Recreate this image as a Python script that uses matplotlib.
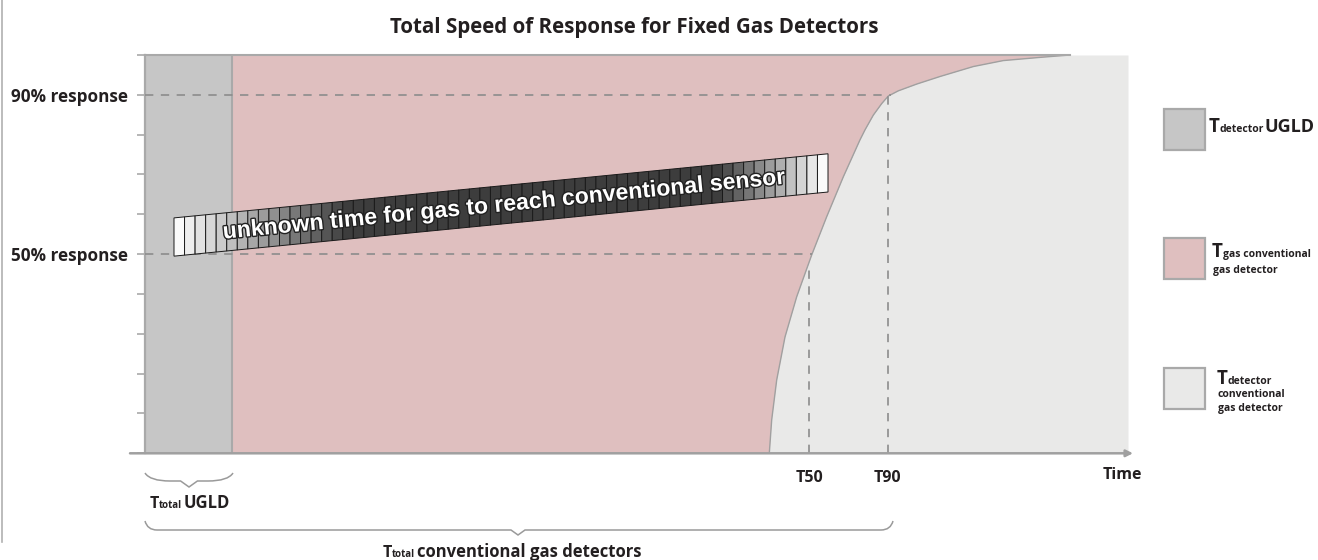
import numpy as np
import matplotlib
matplotlib.use("Agg")
import matplotlib.pyplot as plt
from matplotlib.patches import Rectangle, Polygon, PathPatch
from matplotlib.path import Path
import matplotlib.patheffects as pe

plt.rcParams['font.family'] = ['Open Sans', 'DejaVu Sans']

# ---------------- data ----------------
title = "Total Speed of Response for Fixed Gas Detectors"
ugld_end = 87            # end of UGLD detector time (time units)
time_max = 983           # right end of the chart area
# conventional detector response curve (time, % response)
curve_time = [624.3, 626.7, 631.7, 640, 651.7, 666.7, 681.7, 698.3, 715, 720, 728.3, 736.7, 743.3,
              753.3, 771.7, 795, 828.3, 858.3, 895, 925]
curve_resp = [0, 8.4, 18.4, 29.2, 39.3, 49.8, 59.4, 69.4, 78.7, 81.2, 84.9, 87.8, 89.7,
              91.0, 92.7, 94.6, 97.1, 98.6, 99.4, 100]
t50 = 664.3
t90 = 742.5
ytick_vals = list(range(0, 101, 10))
ytick_labels = ["50% response" if v == 50 else "90% response" if v == 90 else "" for v in ytick_vals]
bar_label = "unknown time for gas to reach conventional sensor"
legend_labels = [("detector", "UGLD", ""), ("gas conventional", "gas detector", ""),
                 ("detector", "conventional", "gas detector")]

# ---------------- style ----------------
c_grey = "#c6c6c6"
c_pink = "#dfbfbf"
c_light = "#e9e9e8"
c_edge = "#a9a9a9"
c_dash = "#8c8c8c"
c_text = "#231f20"

W, H = 1318, 560
fig = plt.figure(figsize=(W / 100, H / 100), dpi=100)
fig.patch.set_facecolor("white")

ax_l, ax_r, ax_t, ax_b = 145, 1135, 55, 453.3
ax = fig.add_axes([ax_l / W, (H - ax_b) / H, (ax_r - ax_l) / W, (ax_b - ax_t) / H])
ax.set_xlim(0, ax_r - ax_l)
ax.set_ylim(0, 100)
ax.set_facecolor("none")

ct = np.array(curve_time, float)
cr = np.array(curve_resp, float)

# regions
ax.fill_between([0, ugld_end], 0, 100, color=c_grey, lw=0, zorder=1)
ax.fill_betweenx(cr, ugld_end, ct, color=c_pink, lw=0, zorder=1)
ax.fill_betweenx(cr, ct, time_max, color=c_light, lw=0, zorder=1)
ax.plot(ct, cr, color="#a0a0a0", lw=1.0, zorder=2, solid_joinstyle="round")
ax.plot([0, ct[-1]], [100, 100], color=c_edge, lw=1.5, zorder=2, clip_on=False)
ax.plot([ugld_end, ugld_end], [0, 100], color=c_edge, lw=1.5, zorder=2)

# dashed guides
dash = (0, (5, 4.5))
ax.plot([0, np.interp(90, cr, ct)], [90, 90], color=c_dash, lw=1.2, ls=dash, zorder=3)
ax.plot([0, np.interp(50, cr, ct)], [50, 50], color=c_dash, lw=1.2, ls=dash, zorder=3)
ax.plot([t50, t50], [0, 46.8], color=c_dash, lw=1.2, ls=dash, zorder=3)
ax.plot([t90, t90], [0, 89.6], color=c_dash, lw=1.2, ls=dash, zorder=3)

# axes
for s in ["top", "right", "bottom"]:
    ax.spines[s].set_visible(False)
ax.spines["left"].set_color(c_edge)
ax.spines["left"].set_linewidth(1.6)
ax.set_yticks(ytick_vals)
ax.set_yticklabels(ytick_labels, fontsize=12.3, fontweight="bold", color=c_text)
ax.tick_params(axis="y", length=6, width=1.2, color=c_edge, pad=6.5)
ax.set_xticks([])
ax.annotate("", xy=(ax_r - ax_l - 2, 0), xytext=(-15, 0), xycoords="data",
            arrowprops=dict(arrowstyle="-|>", color="#a0a0a0", lw=1.8, mutation_scale=10,
                            shrinkA=0, shrinkB=0), annotation_clip=False, zorder=4)

# tilted bar of cells
bx0, bx1 = 29, 683
by0, by1 = 49.5, 65.6
bh = 9.6
n_cells = 62
xs = np.linspace(bx0, bx1, n_cells + 1)
ys = by0 + (xs - bx0) / (bx1 - bx0) * (by1 - by0)
for i in range(n_cells):
    fl = max(0.0, 1 - i / 16.0)
    fr = max(0.0, 1 - (n_cells - 1 - i) / 10.0)
    f = max(fl, fr)
    shade = 0.24 + 0.74 * f
    poly = Polygon([(xs[i], ys[i]), (xs[i + 1], ys[i + 1]), (xs[i + 1], ys[i + 1] + bh), (xs[i], ys[i] + bh)],
                   closed=True, facecolor=(shade, shade, shade), edgecolor="#1a1a1a", lw=0.7, zorder=5)
    ax.add_patch(poly)

p0 = ax.transData.transform((bx0, by0))
p1 = ax.transData.transform((bx1, by1))
ang = np.degrees(np.arctan2(p1[1] - p0[1], p1[0] - p0[0]))
tx = 357
ty = by0 + (tx - bx0) / (bx1 - bx0) * (by1 - by0) + bh / 2
ax.text(tx, ty, bar_label, rotation=ang, rotation_mode="anchor", ha="center", va="center",
        fontsize=16.6, fontweight="bold", family="Liberation Sans", color="white", zorder=6,
        path_effects=[pe.withStroke(linewidth=2.0, foreground="#222222")])

# ---------------- overlay in pixel coordinates ----------------
ov = fig.add_axes([0, 0, 1, 1], zorder=10)
ov.set_xlim(0, W)
ov.set_ylim(H, 0)
ov.axis("off")
ov.patch.set_alpha(0)

ov.plot([2, 2], [0, 542], color="#b0b0b0", lw=1.2)

ov.text(634, 27, title, ha="center", va="center", fontsize=14.8, fontweight="bold", color=c_text)

ov.text(809, 478, "T50", ha="center", va="center", fontsize=11.5, fontweight="bold", color=c_text)
ov.text(887, 478, "T90", ha="center", va="center", fontsize=11.5, fontweight="bold", color=c_text)
ov.text(1122, 475, "Time", ha="center", va="center", fontsize=11.5, fontweight="bold", color=c_text)


def brace(x0, x1, y, h1, h2, tip, r):
    verts = [(x0, y), (x0 + r * 0.2, y + h1), (x0 + r, y + h1),
             (tip - h2 * 1.4, y + h1), (tip, y + h1 + h2), (tip + h2 * 1.4, y + h1),
             (x1 - r, y + h1), (x1 - r * 0.2, y + h1), (x1, y)]
    codes = [Path.MOVETO, Path.CURVE3, Path.CURVE3, Path.LINETO, Path.LINETO, Path.LINETO,
             Path.LINETO, Path.CURVE3, Path.CURVE3]
    return PathPatch(Path(verts, codes), fill=False, edgecolor="#9a9a9a", lw=1.1)


ov.add_patch(brace(145, 233, 473, 8, 6, 189, 25))
ov.add_patch(brace(145, 893, 521, 9, 5, 518, 12))

# bottom labels
ov.text(150, 508, "T", fontsize=11.5, fontweight="bold", color=c_text, va="baseline")
ov.text(159, 508, "total", fontsize=7, fontweight="bold", color=c_text, va="baseline")
ov.text(184, 508, "UGLD", fontsize=12, fontweight="bold", color=c_text, va="baseline")
ov.text(383, 557, "T", fontsize=11.5, fontweight="bold", color=c_text, va="baseline")
ov.text(392, 557, "total", fontsize=7, fontweight="bold", color=c_text, va="baseline")
ov.text(417, 557, "conventional gas detectors", fontsize=12, fontweight="bold", color=c_text, va="baseline")

# legend
sq_y = [109, 238, 368]
sq_c = [c_grey, c_pink, c_light]
for y, c in zip(sq_y, sq_c):
    ov.add_patch(Rectangle((1164, y), 41, 41, facecolor=c, edgecolor=c_edge, lw=1.6))

ov.text(1209, 132, "T", fontsize=13.5, fontweight="bold", color=c_text, va="baseline")
ov.text(1219, 132, legend_labels[0][0], fontsize=7.5, fontweight="bold", color=c_text, va="baseline")
ov.text(1265, 132, legend_labels[0][1], fontsize=13, fontweight="bold", color=c_text, va="baseline")

ov.text(1212, 257, "T", fontsize=13.5, fontweight="bold", color=c_text, va="baseline")
ov.text(1223, 257, legend_labels[1][0], fontsize=7.5, fontweight="bold", color=c_text, va="baseline")
ov.text(1213, 273, legend_labels[1][1], fontsize=7.5, fontweight="bold", color=c_text, va="baseline")

ov.text(1217, 384, "T", fontsize=13.5, fontweight="bold", color=c_text, va="baseline")
ov.text(1228, 384, legend_labels[2][0], fontsize=7.5, fontweight="bold", color=c_text, va="baseline")
ov.text(1218, 397, legend_labels[2][1], fontsize=7.5, fontweight="bold", color=c_text, va="baseline")
ov.text(1218, 411, legend_labels[2][2], fontsize=7.5, fontweight="bold", color=c_text, va="baseline")

fig.savefig("out.png", dpi=100)
